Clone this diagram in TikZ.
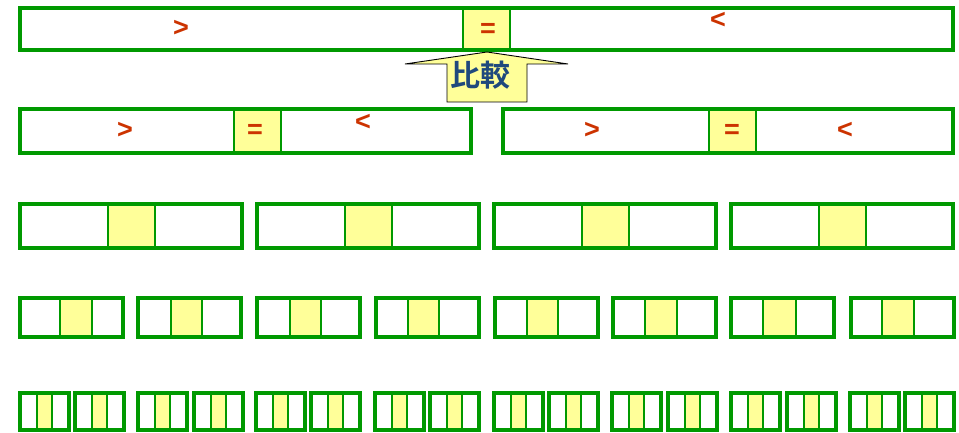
\documentclass[tikz,border=0pt]{standalone}
\usepackage{fontspec}
\setmainfont{Liberation Sans}
\newfontfamily\cjk{Noto Sans CJK JP}[BoldFont={Noto Sans CJK JP Bold}]
\definecolor{grn}{RGB}{0,153,0}
\definecolor{yel}{RGB}{255,255,153}
\definecolor{sym}{RGB}{204,51,0}
\definecolor{kanji}{RGB}{31,73,125}
\tikzset{
  outer/.style={draw=grn, line width=3.2pt},
  divline/.style={draw=grn, line width=2.2pt},
  yfill/.style={fill=yel},
  symb/.style={text=sym, font=\bfseries\fontsize{27}{27}\selectfont, inner sep=0pt},
  arrowshape/.style={draw=black, line width=0.9pt, fill=yel, line join=miter},
}
\newcommand\cellbox[6]{%
  \fill[yfill] (#5,#3) rectangle (#6,#4);
  \draw[divline] (#5,#3) -- (#5,#4) (#6,#3) -- (#6,#4);
  \draw[outer] (#1,#3) rectangle (#2,#4);
}
\begin{document}
\begin{tikzpicture}[x=1pt,y=-1pt]
\useasboundingbox (0,0) rectangle (959,433);
% row 1
\cellbox{20}{953}{8}{50}{463}{510}
\node[symb] (r1gt) at (181,28) {>};
\node[symb] (r1eq) at (488,30) {=};
\node[symb] (r1lt) at (718,20) {<};
% arrow
\draw[arrowshape] (487,52) -- (568,64) -- (527,64) -- (527,102) -- (447,102) -- (447,64) -- (405,64) -- cycle;
\node[text=kanji, font=\cjk\bfseries\fontsize{30}{30}\selectfont, inner sep=0pt] (cmp) at (480,75) {比較};
% row 2
\cellbox{20}{471}{109}{153}{234}{281}
\node[symb] (r2agt) at (125,130) {>};
\node[symb] (r2aeq) at (255,131) {=};
\node[symb] (r2alt) at (363,122) {<};
\cellbox{503}{953}{109}{153}{709}{756}
\node[symb] (r2bgt) at (592,130) {>};
\node[symb] (r2beq) at (732,131) {=};
\node[symb] (r2blt) at (845,130) {<};
% row 3
\foreach \x in {20,257,494,731}{
  \cellbox{\x}{\x+222}{204}{248}{\x+88}{\x+135}
}
% row 4
\foreach \x/\a/\b in {20/60/92,138/171/202,257/290/321,376/408/439,495/527/558,613/645/677,731/763/796,851/882/914}{
  \cellbox{\x}{\x+103}{298}{337}{\a}{\b}
}
% row 5
\foreach \x in {20,75,138,194,256,311,375,430,494,549,612,668,731,787,850,905}{
  \cellbox{\x}{\x+49}{393}{430}{\x+17}{\x+32}
}
\end{tikzpicture}
\end{document}
